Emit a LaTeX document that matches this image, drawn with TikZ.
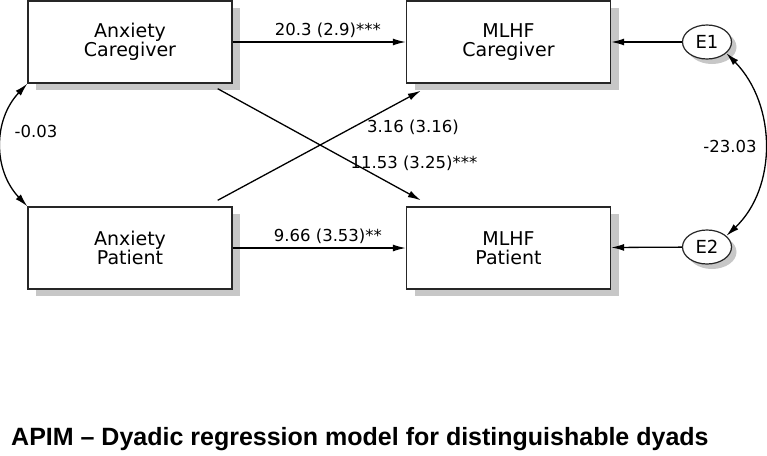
\documentclass[tikz,border=0pt]{standalone}
\usepackage{fontspec}
\setmainfont{DejaVu Sans}
\newfontfamily\titlefont{Liberation Sans}
\usetikzlibrary{arrows.meta,shadows,shapes.geometric,calc}

\begin{document}
\begin{tikzpicture}[x=1pt,y=-1pt,
    var/.style={draw=black!85,line width=1.4pt,fill=white,
        minimum width=204pt,minimum height=82pt,inner sep=0pt,align=center,
        font=\fontsize{19}{19.5}\selectfont,
        drop shadow={shadow xshift=8pt,shadow yshift=-7pt,fill=black!22,opacity=1}},
    err/.style={ellipse,draw=black!85,line width=1.2pt,fill=white,
        minimum width=49pt,minimum height=34pt,inner sep=0pt,
        font=\fontsize{18}{19}\selectfont,
        drop shadow={shadow xshift=5pt,shadow yshift=-5pt,fill=black!22,opacity=1}},
    reg/.style={line width=1.3pt,-{Latex[length=13pt,width=7pt]}},
    cov/.style={line width=1.3pt,{Latex[length=13pt,width=7pt]}-{Latex[length=13pt,width=7pt]}},
    coef/.style={font=\fontsize{16.5}{18}\selectfont,inner sep=1pt}]
    \useasboundingbox (0,0) rectangle (767,455);

    \node[var] (AnxCare) at (130,42) {Anxiety\\Caregiver};
    \node[var] (AnxPat) at (130,248) {Anxiety\\Patient};
    \node[var] (MlhfCare) at (508.5,42) {MLHF\\Caregiver};
    \node[var] (MlhfPat) at (508.5,248) {MLHF\\Patient};
    \node[err] (ErrOne) at (707,42) {E1};
    \node[err] (ErrTwo) at (707,247) {E2};

    \draw[reg] (AnxCare) -- node[coef,above=3pt,pos=0.55] (LblCare) {20.3 (2.9)***} (MlhfCare);
    \draw[reg] (AnxPat) -- node[coef,above=3pt,pos=0.55] (LblPat) {9.66 (3.53)**} (MlhfPat);
    \draw[reg] ($(AnxCare.south east)+(-15,5)$) -- ($(MlhfPat.north west)+(15,-6)$);
    \draw[reg] ($(AnxPat.north east)+(-15,-6)$) -- ($(MlhfCare.south west)+(15,7)$);
    \node[coef] (LblCross) at (413,127) {3.16 (3.16)};
    \node[coef] (LblAcross) at (414,163) {11.53 (3.25)***};

    \draw[reg] (ErrOne) -- (MlhfCare);
    \draw[reg] (ErrTwo) -- (MlhfPat);

    \draw[cov] (AnxCare.south west) .. controls (-7,120) and (-7,170) .. (AnxPat.north west);
    \node[coef] (LblAnx) at (36,131) {-0.03};
    \draw[cov] (ErrOne.-30) .. controls (777,105) and (777,188) .. (ErrTwo.30);
    \node[coef] (LblErr) at (730,146) {-23.03};

    \node[anchor=base west,inner sep=0pt,font=\titlefont\bfseries\fontsize{25}{28}\selectfont] (Title)
        at (11,445) {APIM – Dyadic regression model for distinguishable dyads};
\end{tikzpicture}
\end{document}
